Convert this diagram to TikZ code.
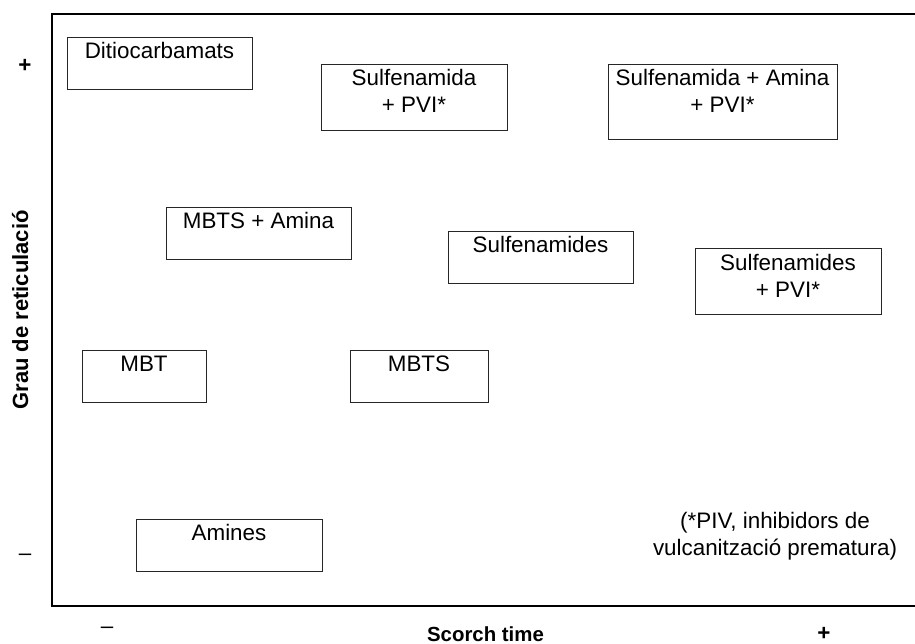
\documentclass[tikz,border=0pt]{standalone}
\usepackage{fontspec}
\setmainfont{Liberation Sans}
\begin{document}
\begin{tikzpicture}[x=1pt,y=-1pt,
  box/.style={draw=black!85, line width=0.9pt, inner sep=0pt},
  lbl/.style={inner sep=0pt, anchor=north, align=center, font={\fontsize{22.4}{27}\selectfont}},
  note/.style={inner sep=0pt, align=center, font={\fontsize{22.4}{26.5}\selectfont}},
  axlbl/.style={inner sep=0pt, font={\fontsize{21}{25}\selectfont\bfseries}},
  sgn/.style={inner sep=0pt, anchor=base, font={\fontsize{22.4}{27}\selectfont}}]
\useasboundingbox (0,0) rectangle (915,644);

% frame
\coordinate (ftr) at (915,14);
\coordinate (ftl) at (52,14);
\coordinate (fbl) at (52,606);
\coordinate (fbr) at (915,606);
\draw[line width=1.2pt] (ftr) -- (ftl) -- (fbl) -- (fbr);

% boxes
\node[box, minimum width=185pt, minimum height=52pt] (b1) at (159.5,63) {};
\node[lbl] (t1) at ([yshift=-6pt]b1.north) {Ditiocarbamats};

\node[box, minimum width=186pt, minimum height=66pt] (b2) at (414,97) {};
\node[lbl] (t2) at ([yshift=-6pt]b2.north) {Sulfenamida\\+ PVI*};

\node[box, minimum width=229pt, minimum height=75pt] (b3) at (722.5,101.5) {};
\node[lbl] (t3) at ([yshift=-6pt]b3.north) {Sulfenamida + Amina\\+ PVI*};

\node[box, minimum width=185pt, minimum height=52pt] (b4) at (258.5,233) {};
\node[lbl] (t4) at ([yshift=-6pt]b4.north) {MBTS + Amina};

\node[box, minimum width=185pt, minimum height=52pt] (b5) at (540.5,257) {};
\node[lbl] (t5) at ([yshift=-6pt]b5.north) {Sulfenamides};

\node[box, minimum width=186pt, minimum height=66pt] (b6) at (788,281) {};
\node[lbl] (t6) at ([yshift=-7pt]b6.north) {Sulfenamides\\+ PVI*};

\node[box, minimum width=124pt, minimum height=52pt] (b7) at (144,376) {};
\node[lbl] (t7) at ([yshift=-6pt]b7.north) {MBT};

\node[box, minimum width=138pt, minimum height=52pt] (b8) at (419,376) {};
\node[lbl] (t8) at ([yshift=-6pt]b8.north) {MBTS};

\node[box, minimum width=186pt, minimum height=52pt] (b9) at (229,545) {};
\node[lbl] (t9) at ([yshift=-6pt]b9.north) {Amines};

% note
\node[note, anchor=north] (nt) at (775,512.5) {(*PIV, inhibidors de\\vulcanització prematura)};

% axis labels
\node[axlbl, anchor=base, font={\fontsize{20.4}{24}\selectfont\bfseries}] (xl) at (485.5,641.5) {Scorch time};
\node[axlbl, anchor=base, rotate=90, font={\fontsize{22}{26}\selectfont\bfseries}] (yl) at (28,310) {Grau de reticulació};

% signs
\node[sgn, font={\fontsize{22.4}{27}\selectfont\bfseries}] (yp) at (25,72.5) {+};
\node[sgn] (ym) at (25,560) {–};
\node[sgn] (xm) at (107,633) {–};
\node[sgn, font={\fontsize{22.4}{27}\selectfont\bfseries}] (xp) at (824,640.5) {+};
\end{tikzpicture}
\end{document}
